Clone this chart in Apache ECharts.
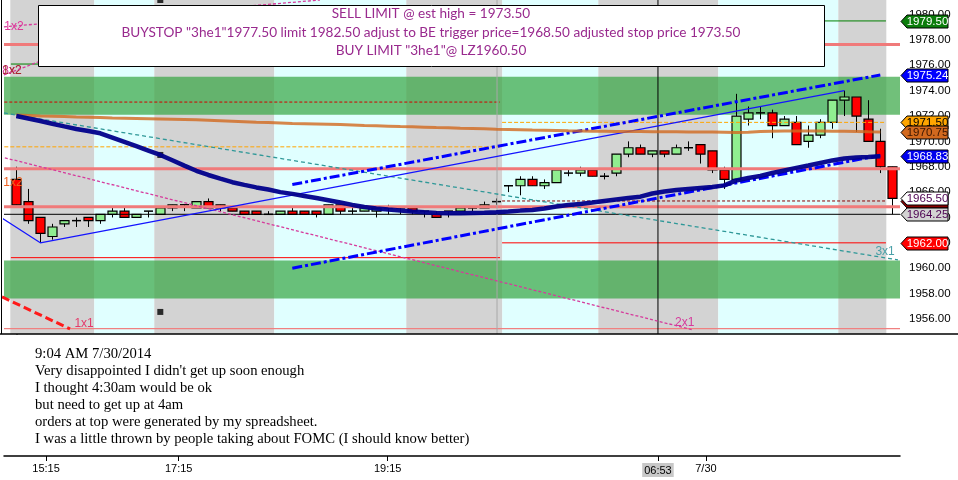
<!DOCTYPE html>
<html>
<head>
<meta charset="utf-8">
<style>
  html, body { margin: 0; padding: 0; background: #fff; }
  #chart { width: 958px; height: 480px; }
</style>
<script src="https://cdn.jsdelivr.net/npm/echarts@6.0.0/dist/echarts.min.js"></script>
</head>
<body>
<div id="chart"></div>
<script>
// ES 5-bar candles, one per index (0..73)
const opens = [
  1967.00, 1965.25, 1964.00, 1962.50, 1963.50, 1963.75, 1964.00, 1963.75, 1964.25, 1964.50,
  1964.00, 1964.50, 1964.25, 1964.75, 1965.00, 1964.75, 1965.25, 1965.00, 1964.75, 1964.50,
  1964.50, 1964.25, 1964.25, 1964.50, 1964.50, 1964.50, 1964.25, 1965.00, 1964.50, 1964.50,
  1964.50, 1964.75, 1964.75, 1964.75, 1964.50, 1964.25, 1964.50, 1964.50, 1964.75, 1964.75,
  1965.25, 1966.50, 1966.50, 1967.00, 1966.50, 1966.75, 1967.50, 1967.50, 1967.75, 1967.25,
  1967.50, 1969.00, 1969.50, 1969.00, 1969.25, 1969.00, 1969.50, 1969.75, 1969.25, 1967.75,
  1967.00, 1971.75, 1972.25, 1972.25, 1971.25, 1971.50, 1970.00, 1970.50, 1971.50, 1973.25,
  1973.50, 1971.75, 1970.00, 1968.00
];
const closes = [
  1965.00, 1963.75, 1962.75, 1963.25, 1963.75, 1963.75, 1963.75, 1964.25, 1964.50, 1964.00,
  1964.25, 1964.50, 1964.75, 1965.00, 1965.00, 1965.25, 1964.75, 1964.75, 1964.50, 1964.25,
  1964.25, 1964.25, 1964.50, 1964.25, 1964.25, 1964.25, 1965.00, 1964.50, 1964.50, 1964.75,
  1964.75, 1964.75, 1964.75, 1964.50, 1964.50, 1964.00, 1964.50, 1964.75, 1964.75, 1965.00,
  1965.25, 1966.50, 1967.00, 1966.50, 1966.75, 1967.75, 1967.50, 1967.75, 1967.25, 1967.25,
  1969.00, 1969.50, 1969.00, 1969.25, 1969.00, 1969.50, 1969.50, 1969.00, 1967.75, 1967.00,
  1972.00, 1972.25, 1972.25, 1971.25, 1971.75, 1969.75, 1970.50, 1971.50, 1973.25, 1973.50,
  1972.00, 1970.00, 1968.00, 1965.50
];
const lows = [
  1965.00, 1963.50, 1962.00, 1962.25, 1963.25, 1963.25, 1963.25, 1963.50, 1964.00, 1964.00,
  1964.00, 1964.00, 1964.25, 1964.50, 1964.50, 1964.75, 1964.75, 1964.50, 1964.50, 1964.25,
  1964.25, 1964.25, 1964.25, 1964.25, 1964.25, 1964.00, 1964.25, 1964.25, 1964.25, 1964.50,
  1964.00, 1964.25, 1964.25, 1964.25, 1964.00, 1964.00, 1964.00, 1964.50, 1964.50, 1964.75,
  1965.00, 1966.00, 1965.75, 1966.50, 1966.25, 1966.75, 1967.25, 1967.25, 1967.25, 1967.00,
  1967.25, 1968.75, 1969.00, 1968.75, 1968.75, 1969.00, 1969.25, 1968.25, 1967.50, 1966.25,
  1966.75, 1971.25, 1971.75, 1970.25, 1971.25, 1969.75, 1969.50, 1970.25, 1971.00, 1972.00,
  1970.75, 1970.00, 1967.50, 1964.25
];
const highs = [
  1968.00, 1966.25, 1964.00, 1963.50, 1963.75, 1964.00, 1964.00, 1964.25, 1964.75, 1964.75,
  1964.25, 1964.50, 1964.75, 1965.00, 1965.00, 1965.25, 1965.50, 1965.00, 1964.75, 1964.50,
  1964.50, 1964.50, 1964.50, 1964.75, 1964.50, 1964.50, 1965.00, 1965.00, 1964.75, 1964.75,
  1964.75, 1965.00, 1964.75, 1964.75, 1964.50, 1964.50, 1964.50, 1964.75, 1964.75, 1965.25,
  1965.50, 1966.50, 1967.25, 1967.25, 1967.00, 1967.75, 1967.75, 1968.00, 1967.75, 1967.50,
  1969.00, 1970.00, 1969.75, 1969.25, 1969.25, 1969.75, 1970.00, 1969.75, 1969.25, 1968.00,
  1973.75, 1972.75, 1972.75, 1972.50, 1972.00, 1972.00, 1971.25, 1971.75, 1973.25, 1974.00,
  1973.50, 1973.25, 1971.00, 1968.00
];

// slow (orange) and fast (navy) averages, index 0..72
const slowAvg = [
  1972.09, 1972.05, 1972.01, 1971.99, 1971.96, 1971.93, 1971.91, 1971.89, 1971.85, 1971.83,
  1971.81, 1971.79, 1971.77, 1971.75, 1971.73, 1971.70, 1971.66, 1971.62, 1971.58, 1971.54,
  1971.50, 1971.48, 1971.45, 1971.42, 1971.40, 1971.38, 1971.36, 1971.34, 1971.30, 1971.26,
  1971.23, 1971.20, 1971.17, 1971.15, 1971.12, 1971.09, 1971.07, 1971.04, 1971.02, 1970.99,
  1970.96, 1970.94, 1970.92, 1970.89, 1970.87, 1970.85, 1970.83, 1970.82, 1970.80, 1970.79,
  1970.78, 1970.77, 1970.77, 1970.76, 1970.76, 1970.76, 1970.75, 1970.75, 1970.74, 1970.73,
  1970.71, 1970.73, 1970.78, 1970.80, 1970.82, 1970.82, 1970.82, 1970.81, 1970.80, 1970.79,
  1970.78, 1970.76, 1970.75
];
const fastAvg = [
  1972.00, 1971.81, 1971.61, 1971.39, 1971.18, 1970.98, 1970.82, 1970.64, 1970.30, 1969.96,
  1969.62, 1969.28, 1968.93, 1968.51, 1968.09, 1967.68, 1967.35, 1967.06, 1966.78, 1966.57,
  1966.37, 1966.20, 1966.00, 1965.86, 1965.70, 1965.54, 1965.36, 1965.18, 1964.99, 1964.83,
  1964.71, 1964.62, 1964.55, 1964.47, 1964.41, 1964.36, 1964.33, 1964.33, 1964.36, 1964.38,
  1964.41, 1964.47, 1964.54, 1964.59, 1964.71, 1964.87, 1964.99, 1965.07, 1965.18, 1965.30,
  1965.42, 1965.54, 1965.64, 1965.89, 1966.05, 1966.17, 1966.25, 1966.33, 1966.41, 1966.53,
  1966.92, 1967.12, 1967.27, 1967.51, 1967.71, 1967.91, 1968.10, 1968.30, 1968.50, 1968.65,
  1968.73, 1968.77, 1968.83
];

// session shading, [from, to] in bar index
const sessionBands = [
  [-0.5, 6.5], [6.5, 11.5], [11.5, 21.5], [21.5, 32.5], [32.5, 40.5],
  [40.5, 48.5], [48.5, 58.5], [58.5, 68.5], [68.5, 72.5]
];
const supplyDemandZones = [[1972.10, 1975.10], [1957.60, 1960.60]];

// horizontal levels
const pinkLevels = [1977.65, 1967.85, 1964.85];
const floorLevels = [1955.24];
const lowLevels = [1964.25];
const priorOrders = [1973.10, 1969.57, 1960.83, 1976.10];
const todayOrders = [1979.50, 1971.50, 1965.30, 1962.00];
const priorSpan = [-1.0, 40.31];
const todaySpan = [40.48, 72.47];

// trend / fan lines, [bar index, price]
const channelUpper = [[23, 1966.60], [72, 1975.24]];
const channelLower = [[23, 1960.00], [72, 1968.90]];
const swingLine = [[-1.2, 1963.96], [2, 1962.00], [69, 1974.00]];
const fan3x1 = [[-1.03, 1972.24], [73.47, 1960.65]];
const fan2x1 = [[-1.36, 1968.80], [56.4, 1955.13]];
const fan1x2 = [[-1.03, 1979.03], [25.3, 1981.15]];
const fan8x2 = [[-1.03, 1975.24], [11.1, 1979.60]];
const fan1x1 = [[-1.19, 1957.73], [4.48, 1955.21]];
const dayBreak = [40.06];
const cursorBar = [53.47];

const fanLabels = ['1x2', '8x2', '1x2', '1x2', '3x1', '2x1', '1x1'];
const fanLabelAt = [[-0.2, 1979.03], [-0.36, 1975.55], [-0.36, 1975.55], [-0.28, 1966.72], [72.4, 1961.28], [55.7, 1955.68], [5.65, 1955.60]];
const fanLabelColors = ['#e0349a', '#d63a9c', '#a52a2a', '#f06020', '#4aa0a8', '#d63a9c', '#e33b6b'];

const markers = [[12, 1968.93], [12, 1981.15], [12, 1956.55]];

const priceTicks = [1956, 1958, 1960, 1962, 1964, 1966, 1968, 1970, 1972, 1974, 1976, 1978, 1980];
const timeTicks = [2.48, 13.53, 30.95, 53.47, 57.47];
const timeLabels = ['15:15', '17:15', '19:15', '06:53', '7/30'];

const tagValues = [1979.50, 1975.24, 1971.50, 1970.75, 1968.83, 1965.30, 1965.50, 1964.25, 1962.00];
const tagFills = ['#0b7d0b', '#0000ff', '#ffa500', '#d2691e', '#0000ee', '#8b0000', '#ffffff', '#d3d3d3', '#ff0000'];
const tagInk = ['#ffffff', '#ffffff', '#000000', '#3a1500', '#ffffff', '#ffffff', '#4b0050', '#4b0050', '#ffffff'];

const orderText = [
  'SELL LIMIT @ est high = 1973.50',
  'BUYSTOP "3he1"1977.50 limit 1982.50 adjust to BE trigger price=1968.50 adjusted stop price 1973.50',
  'BUY LIMIT "3he1"@ LZ1960.50'
];
const noteText = [
  '9:04 AM 7/30/2014',
  "Very disappointed I didn't get up soon enough",
  'I thought 4:30am would be ok',
  'but need to get up at 4am',
  'orders at top were generated by my spreadsheet.',
  'I was a little thrown by people taking about FOMC (I should know better)'
];

const X_MIN = -1.025, X_MAX = 73.64;
const Y_MIN = 1954.81, Y_MAX = 1981.15;
const AXIS_FONT = '"Liberation Sans", Arial, sans-serif';

function rectItem(params, api) {
  const p0 = api.coord([api.value(0), api.value(3)]);
  const p1 = api.coord([api.value(1), api.value(2)]);
  return {
    type: 'rect',
    shape: { x: p0[0], y: p0[1], width: p1[0] - p0[0], height: p1[1] - p0[1] },
    style: { fill: api.visual('color') }
  };
}

function candleItem(params, api) {
  const i = api.value(0), o = api.value(1), c = api.value(2);
  const hi = api.coord([i, api.value(4)]), lo = api.coord([i, api.value(3)]);
  const po = api.coord([i, o]), pc = api.coord([i, c]);
  const w = Math.round(api.size([1, 0])[0] * 0.72);
  const x = Math.round(hi[0]) + 0.5;
  const kids = [{
    type: 'line',
    shape: { x1: x, y1: hi[1], x2: x, y2: lo[1] },
    style: { stroke: '#000', lineWidth: 1 }
  }];
  if (o === c) {
    kids.push({
      type: 'line',
      shape: { x1: x - w / 2, y1: po[1], x2: x + w / 2, y2: po[1] },
      style: { stroke: '#000', lineWidth: 1.5 }
    });
  } else {
    const top = Math.min(po[1], pc[1]);
    kids.push({
      type: 'rect',
      shape: { x: x - w / 2, y: top, width: w, height: Math.abs(po[1] - pc[1]) },
      style: { fill: c > o ? '#90ee90' : '#ff0000', stroke: '#000', lineWidth: 1.2 }
    });
  }
  return { type: 'group', children: kids };
}

function tagItem(params, api) {
  const k = params.dataIndex;
  const v = api.value(0);
  const p = api.coord([X_MAX, v]);
  const x = p[0] + 1, y = Math.round(p[1]) + 0.5, h = 13, tip = 6, w = 41;
  return {
    type: 'group',
    children: [{
      type: 'polygon',
      shape: { points: [[x, y], [x + tip, y - h / 2], [x + tip + w, y - h / 2], [x + tip + w, y + h / 2], [x + tip, y + h / 2]] },
      style: { fill: tagFills[k], stroke: '#000', lineWidth: 1 }
    }, {
      type: 'text',
      x: x + tip + w / 2, y: y + 0.5,
      style: {
        text: v.toFixed(2), fill: tagInk[k], font: '11.5px ' + AXIS_FONT,
        align: 'center', verticalAlign: 'middle'
      }
    }]
  };
}

function labelItem(params, api) {
  const p = api.coord([api.value(0), api.value(1)]);
  return {
    type: 'text', x: p[0], y: p[1],
    style: {
      text: fanLabels[params.dataIndex], fill: fanLabelColors[params.dataIndex],
      font: '12px ' + AXIS_FONT, align: 'center', verticalAlign: 'middle'
    }
  };
}

function segment(name, points, color, width, type, opacity) {
  return {
    name: name, type: 'line', xAxisIndex: 0, yAxisIndex: 0,
    data: points, symbol: 'none', silent: true, animation: false,
    lineStyle: { color: color, width: width, type: type || 'solid', opacity: opacity == null ? 1 : opacity },
    clip: true
  };
}

function level(value, span, color, width, type) {
  return segment('level', [[span[0], value], [span[1], value]], color, width, type);
}

const priorStyles = [['#d40000', 1, [3, 2]], ['#ffa500', 1, [4, 2]], ['#ff0000', 1, 'solid'], ['#008000', 1, 'solid']];
const todayStyles = [['#008000', 1, 'solid'], ['#ffa500', 1, [4, 2]], ['#8b0000', 1, [3, 2]], ['#ff0000', 1, 'solid']];
const solidStart = -0.45;

const series = [];

series.push({
  type: 'custom', renderItem: rectItem, clip: true, silent: true, animation: false,
  encode: { x: [0, 1], y: [2, 3] },
  data: sessionBands.map((b, k) => ({
    value: [b[0], b[1], Y_MIN, Y_MAX],
    itemStyle: { color: k % 2 ? '#e0ffff' : '#d3d3d3' }
  }))
});
series.push({
  type: 'custom', renderItem: rectItem, clip: true, silent: true, animation: false,
  encode: { x: [0, 1], y: [2, 3] },
  data: supplyDemandZones.map(z => ({
    value: [X_MIN, X_MAX, z[0], z[1]],
    itemStyle: { color: 'rgba(52,165,66,0.7)' }
  }))
});

pinkLevels.forEach(v => series.push(level(v, [X_MIN, X_MAX], '#f07a7a', 3)));
floorLevels.forEach(v => series.push(level(v, [X_MIN, X_MAX], '#f08080', 1.2)));
priorOrders.forEach((v, k) => {
  const st = priorStyles[k];
  const span = st[2] === 'solid' ? [solidStart, priorSpan[1]] : priorSpan;
  series.push(level(v, span, st[0], st[1], st[2]));
});
todayOrders.forEach((v, k) => {
  const st = todayStyles[k];
  series.push(level(v, todaySpan, st[0], st[1], st[2]));
});
lowLevels.forEach(v => series.push(level(v, [X_MIN, X_MAX], '#000000', 1)));

dayBreak.forEach(x => series.push(segment('day', [[x, Y_MIN], [x, Y_MAX]], '#a8a8a8', 1)));
cursorBar.forEach(x => series.push(segment('cursor', [[x, Y_MIN], [x, Y_MAX]], '#000000', 1)));

series.push(segment('3x1', fan3x1, '#2f9898', 1.3, [4, 3]));
series.push(segment('2x1', fan2x1, '#d63a9c', 1.3, [3, 2]));
series.push(segment('1x2', fan1x2, '#d63a9c', 1.3, [3, 2]));
series.push(segment('8x2', fan8x2, '#d63a9c', 1.3, [3, 2]));
series.push(segment('1x1', fan1x1, '#ff1a1a', 3, [8, 4]));
series.push(segment('swing', swingLine, '#1414ff', 1.2));
series.push(segment('channel', channelUpper, '#0000ff', 3, [10, 3, 3, 3]));
series.push(segment('channel', channelLower, '#0000ff', 3, [10, 3, 3, 3]));

series.push(segment('slow', slowAvg.map((v, k) => [k, v]), '#d2691e', 3, 'solid', 0.8));
series.push(segment('fast', fastAvg.map((v, k) => [k, v]), '#00008b', 4.5, 'solid', 0.95));

series.push({
  type: 'custom', renderItem: candleItem, clip: true, silent: true, animation: false,
  encode: { x: 0, y: [1, 2, 3, 4] },
  data: opens.map((o, k) => [k, o, closes[k], lows[k], highs[k]])
});

series.push({
  type: 'scatter', symbol: 'rect', symbolSize: 6, clip: true, silent: true, animation: false,
  itemStyle: { color: '#000' }, data: markers
});

series.push({
  type: 'custom', renderItem: labelItem, clip: false, silent: true, animation: false,
  encode: { x: 0, y: 1 }, data: fanLabelAt
});

series.push({
  type: 'custom', renderItem: tagItem, clip: false, silent: true, animation: false, z: 5,
  encode: { y: 0 }, data: tagValues.map(v => [v])
});

const option = {
  animation: false,
  backgroundColor: '#ffffff',
  grid: [
    { left: 4, right: 58, top: 0, height: 334 },
    { left: 4, right: 58, top: 334, height: 122 }
  ],
  xAxis: [{
    gridIndex: 0, type: 'value', min: X_MIN, max: X_MAX, show: false
  }, {
    gridIndex: 1, type: 'value', min: X_MIN, max: X_MAX,
    axisLine: { show: true, lineStyle: { color: '#000', width: 1.5 } },
    axisTick: { show: true, customValues: timeTicks, length: 5, lineStyle: { color: '#000' } },
    splitLine: { show: false },
    axisLabel: {
      customValues: timeTicks, margin: 7, color: '#000', fontSize: 11, fontFamily: AXIS_FONT,
      formatter: v => {
        let k = 0;
        timeTicks.forEach((t, j) => { if (Math.abs(t - v) < Math.abs(timeTicks[k] - v)) k = j; });
        return k === 3 ? '{hl|' + timeLabels[k] + '}' : timeLabels[k];
      },
      rich: { hl: { backgroundColor: '#c8c8c8', padding: [2, 2, 1, 2], fontSize: 11, fontFamily: AXIS_FONT, color: '#000' } }
    }
  }],
  yAxis: [{
    gridIndex: 0, type: 'value', position: 'right', min: Y_MIN, max: Y_MAX,
    axisLine: { show: true, lineStyle: { color: '#000', width: 1.5 } },
    axisTick: { show: true, customValues: priceTicks, length: 6, lineStyle: { color: '#000' } },
    splitLine: { show: false },
    axisLabel: {
      customValues: priceTicks, margin: 9, color: '#000', fontSize: 11.5, fontFamily: AXIS_FONT,
      formatter: v => v.toFixed(2)
    }
  }, {
    gridIndex: 1, type: 'value', min: 0, max: 1, show: false
  }],
  graphic: [
    { type: 'line', shape: { x1: 0, y1: 334, x2: 958, y2: 334 }, style: { stroke: '#000', lineWidth: 1.5 }, z: 50 },
    { type: 'line', shape: { x1: 1.5, y1: 0, x2: 1.5, y2: 334 }, style: { stroke: '#000', lineWidth: 1 }, z: 50 },
    { type: 'rect', shape: { x: 38.5, y: 5.5, width: 786, height: 61 }, style: { fill: '#fff', stroke: '#000', lineWidth: 1 }, z: 100 },
    ...orderText.map((t, k) => ({
      type: 'text', x: 431, y: 14 + k * 18.5, z: 101,
      style: { text: t, fill: '#992a8e', font: '13.6px Lato, "Open Sans", sans-serif', align: 'center', verticalAlign: 'middle' }
    })),
    {
      type: 'text', left: 35, top: 346, z: 101,
      style: { text: noteText.join('\n'), fill: '#000', font: '14.67px "Liberation Serif", serif', lineHeight: 17 }
    }
  ],
  series: series
};

const chart = echarts.init(document.getElementById('chart'), null, { renderer: 'canvas' });
chart.setOption(option);
</script>
</body>
</html>
